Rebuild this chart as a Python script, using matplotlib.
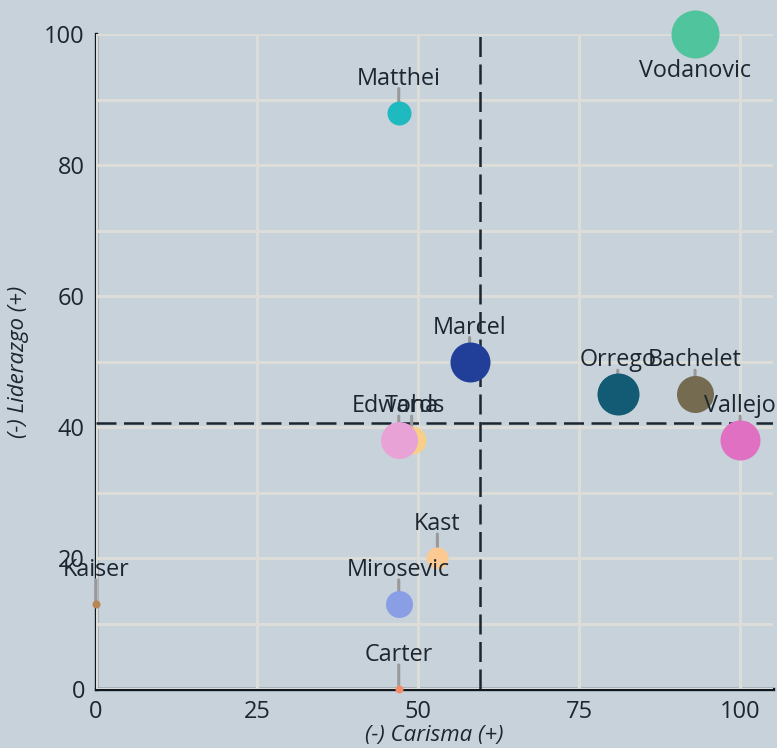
import numpy as np
import matplotlib
matplotlib.use("Agg")
import matplotlib.pyplot as plt

# datos: carisma (x), liderazgo (y), diametro del punto en px
nombres = ["Vodanovic", "Matthei", "Marcel", "Orrego", "Bachelet", "Vallejo",
           "Toha", "Edwards", "Kast", "Mirosevic", "Carter", "Kaiser"]
carisma = [93, 47, 58, 81, 93, 100, 49, 47, 53, 47, 47, 0]
liderazgo = [100, 88, 50, 45, 45, 38, 38, 38, 20, 13, 0, 13]
diametro = [48, 24, 40, 42, 37, 40, 28, 37, 22, 27, 8, 8]
colores = ["#4fc49d", "#1fbac0", "#213f99", "#135a74", "#746b50", "#df70c2",
           "#f7cf88", "#e9a2d6", "#fdc992", "#8a9ee6", "#f48c6a", "#b88654"]
etiqueta_abajo = ["Vodanovic"]

plt.rcParams['font.family'] = ['Open Sans', 'DejaVu Sans']
fondo = "#c8d2da"
texto = "#1b2631"

fig = plt.figure(figsize=(7.77, 7.48), dpi=100, facecolor=fondo)
ax = fig.add_axes([96/777, 1 - 689/748, (773 - 96)/777, (689 - 34)/748])
ax.set_facecolor(fondo)
ax.set_xlim(0, 105.1)
ax.set_ylim(0, 100)

ax.set_xticks([0, 25, 50, 75, 100])
ax.set_yticks([0, 20, 40, 60, 80, 100])
ax.set_yticks(np.arange(10, 100, 20), minor=True)
ax.grid(True, which='both', color="#dcdcd8", lw=2.2, zorder=0)
ax.tick_params(which='both', length=0, labelsize=17, labelcolor=texto, pad=8)

for s in ['top', 'right']:
    ax.spines[s].set_visible(False)
for s in ['left', 'bottom']:
    ax.spines[s].set_color("#0f1820")
    ax.spines[s].set_linewidth(2.4)
    ax.spines[s].set_zorder(1)

ax.axvline(np.mean(carisma), color="#1b2631", lw=1.8, ls=(0, (8, 3)), zorder=2)
ax.axhline(np.mean(liderazgo), color="#1b2631", lw=1.8, ls=(0, (8, 3)), zorder=2)

px = 72 / 100
for n, x, y, d, c in zip(nombres, carisma, liderazgo, diametro, colores):
    abajo = n in etiqueta_abajo
    if not abajo:
        ax.annotate('', xy=(x, y), xytext=(0, 24 * px), textcoords='offset points',
                    arrowprops=dict(arrowstyle='-', color="#999999", lw=2.2,
                                    shrinkA=0, shrinkB=0), zorder=3)
    ax.scatter([x], [y], s=(d * px) ** 2, color=c, zorder=4, clip_on=False,
               linewidths=0)

for n, x, y in zip(nombres, carisma, liderazgo):
    if n in etiqueta_abajo:
        ax.annotate(n, xy=(x, y), xytext=(0, -25 * px), textcoords='offset points',
                    ha='center', va='top', fontsize=16.8, color=texto, zorder=5,
                    annotation_clip=False)
    else:
        ax.annotate(n, xy=(x, y), xytext=(0, 28 * px), textcoords='offset points',
                    ha='center', va='baseline', fontsize=16.8, color=texto, zorder=5,
                    annotation_clip=False)

ax.set_xlabel("(-) Carisma (+)", fontsize=16, style='italic', color=texto, labelpad=1)
ax.set_ylabel("(-) Liderazgo (+)", fontsize=16, style='italic', color=texto, labelpad=11)

fig.savefig("out.png", dpi=100, facecolor=fondo)
